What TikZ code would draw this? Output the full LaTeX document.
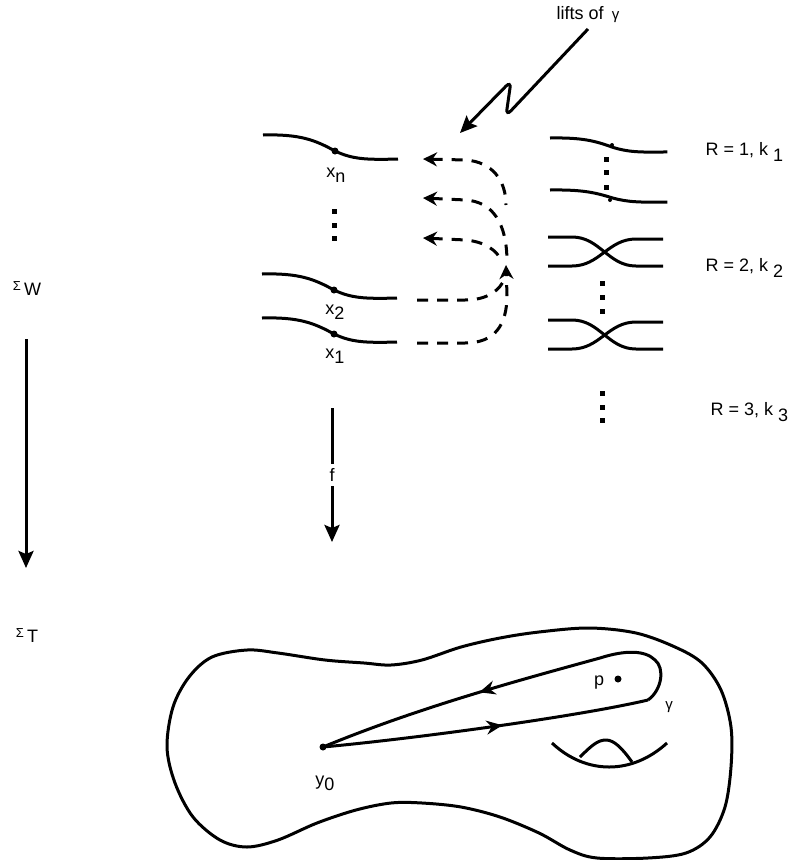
\documentclass[tikz,border=0pt]{standalone}
\usepackage{fontspec}
\setmainfont{Liberation Sans}
\usetikzlibrary{arrows.meta, decorations.markings}

\begin{document}
\begin{tikzpicture}[
    x=1pt, y=-1pt,
    font=\fontsize{18}{21}\selectfont,
    strand/.style={line width=3pt},
    liftline/.style={line width=3pt, dash pattern=on 11pt off 9pt},
    lift/.style={liftline, {Stealth[length=14pt, width=14pt]}-},
    arr/.style={line width=3pt, -{Stealth[length=17pt, width=15pt, inset=3pt]}},
    midarrow/.style={postaction={decorate}, decoration={markings, mark=at position #1 with {\arrow{Stealth[length=16pt, width=14pt]}}}},
    sheet/.pic={\draw[strand] (0,0) .. controls (37,-1) and (52,5) .. (72,16) .. controls (89,24) and (102,25) .. (135,24);},
    cross/.pic={
        \draw[strand] (0,0) -- (24,0) .. controls (52,0) and (60,29) .. (88,29) -- (115,29);
        \draw[strand] (0,29) -- (24,29) .. controls (52,29) and (60,2) .. (88,2) -- (115,2);
    },
]
\useasboundingbox (0,0) rectangle (796,860);

% lifts in the cover
\node (lifts) at (588,15) {lifts of\ \,{\fontsize{15}{17}\selectfont γ}};
\coordinate (zstart) at (588,29);
\coordinate (ztip) at (460,133);
\draw[arr, rounded corners=7pt] (zstart) -- (506,116) -- (511,81) -- (ztip);

\pic at (263,135) {sheet};
\pic at (262,274) {sheet};
\pic at (262,318) {sheet};
\fill (335,151) circle (3.5pt);
\fill (334,290) circle (3.5pt);
\fill (334,334) circle (3.5pt);
\node (xn) at (336,175) {x\raisebox{-5pt}{n}};
\node (x2) at (335,312) {x\raisebox{-5pt}{2}};
\node (x1) at (335,356) {x\raisebox{-5pt}{1}};
\foreach \y in {211,225,238} \fill (334,\y) +(-2.5,-2.5) rectangle +(2.5,2.5);

% dashed lifts of gamma
\coordinate (l1s) at (417,343);
\coordinate (l2s) at (417,300);
\coordinate (join) at (506,265);
\coordinate (tn) at (423,159);
\coordinate (t2) at (423,198);
\coordinate (t3) at (423,238);
\draw[liftline, -{Stealth[length=14pt, width=14pt]}] (l1s) -- (465,343) .. controls (495,343) and (507,325) .. (507,295) -- (join);
\draw[liftline] (l2s) -- (465,300) .. controls (488,300) and (500,290) .. (505,278);
\draw[lift] (tn) -- (466,160) .. controls (492,162) and (506,180) .. (506,205);
\draw[lift] (t2) -- (466,200) .. controls (492,202) and (507,222) .. (507,262);
\draw[lift] (t3) -- (466,240) .. controls (485,242) and (497,250) .. (502,262);

% right column
\pic[xscale=0.87, yscale=0.58] at (550,138) {sheet};
\pic[xscale=0.87, yscale=0.5] at (550,190) {sheet};
\fill (612,145) circle (2pt);
\fill (610,200) circle (2pt);
\pic at (548,237) {cross};
\pic at (548,320) {cross};
\foreach \y in {159,172,187} \fill (606,\y) +(-2.5,-2.5) rectangle +(2.5,2.5);
\foreach \y in {283,297,311} \fill (602,\y) +(-2.5,-2.5) rectangle +(2.5,2.5);
\foreach \y in {393,407,420} \fill (602,\y) +(-2.5,-2.5) rectangle +(2.5,2.5);
\node[anchor=west] (r1) at (702,152) {R = 1, k \raisebox{-6pt}{1}};
\node[anchor=west] (r2) at (702,268) {R = 2, k \raisebox{-6pt}{2}};
\node[anchor=west] (r3) at (707,412) {R = 3, k \raisebox{-6pt}{3}};

% the maps
\node (sigW) at (27,289) {\raisebox{5pt}{\fontsize{13}{14}\selectfont Σ}\,W};
\node (sigT) at (27,636) {\raisebox{5pt}{\fontsize{13}{14}\selectfont Σ}\,T};
\coordinate (down1) at (26,339);
\coordinate (down2) at (26,568);
\draw[arr] (down1) -- (down2);
\coordinate (ftop) at (332,408);
\coordinate (fbot) at (332,542);
\draw[arr] (ftop) -- node[fill=white, inner sep=4pt] (f) {f} (fbot);

% the surface
\draw[strand] plot[smooth cycle, tension=0.55] coordinates {
    (167,747) (173,707) (189,677) (212,657) (247,650) (278,653) (325,660)
    (364,663) (391,665) (422,660) (461,647) (500,638) (539,632) (589,628)
    (636,633) (675,647) (702,663) (721,690) (731,727) (731,767) (725,807)
    (710,837) (686,853) (648,858) (597,858) (570,850) (539,833) (500,817)
    (461,807) (422,803) (391,803) (356,810) (317,823) (278,840) (247,847)
    (220,840) (193,817) (175,783)};
\draw[strand] (552,743) .. controls (586,775) and (632,775) .. (667,743);
\draw[strand] (580,757) .. controls (592,745) and (598,740) .. (606,740) .. controls (614,740) and (622,748) .. (632,762);

% the loop gamma
\coordinate (y0) at (323,747);
\coordinate (tipR) at (648,700);
\fill (y0) circle (3.5pt);
\node (y0lab) at (325,783) {y\raisebox{-5pt}{0}};
\draw[strand, midarrow=0.55] (y0) .. controls (420,738) and (580,716) .. (tipR);
\draw[strand, midarrow=0.58] (tipR) .. controls (662,690) and (665,668) .. (655,660) .. controls (645,650) and (625,650) .. (600,658) .. controls (520,680) and (420,707) .. (y0);
\fill (618,679) circle (3.5pt);
\node (p) at (599,683) {p};
\node (gamma) at (669,707) {\fontsize{15}{17}\selectfont γ};

\end{tikzpicture}
\end{document}
